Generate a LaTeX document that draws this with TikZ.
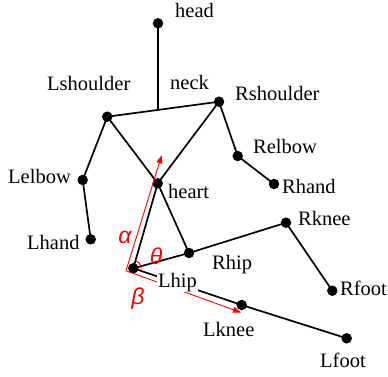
\documentclass[tikz,border=0pt]{standalone}
\usepackage{fontspec}
\setmainfont{Liberation Serif}
\newfontfamily\greekfont{Liberation Sans}
\usetikzlibrary{calc,arrows.meta}

\begin{document}
\begin{tikzpicture}[x=1pt,y=-1pt,
  joint/.style={circle,fill=black,inner sep=0pt,minimum size=10.5pt},
  bone/.style={line width=1.7pt},
  tag/.style={anchor=base west,inner sep=0pt,font=\fontsize{20.5}{24}\selectfont},
  guide/.style={red,line width=0.9pt},
  guidearrow/.style={guide,-{Triangle[length=8pt,width=6pt]}},
  greek/.style={red,inner sep=0pt,font=\fontsize{23}{26}\selectfont\greekfont\itshape},
]
\useasboundingbox (0,0) rectangle (388,376);

% joints
\node[joint] (head)      at (158,23.3)  {};
\node[joint] (Lshoulder) at (107.3,116.7) {};
\node[joint] (Rshoulder) at (219,101.7) {};
\node[joint] (Lelbow)    at (82.7,180) {};
\node[joint] (Lhand)     at (90.7,239.3) {};
\node[joint] (Relbow)    at (237.7,156) {};
\node[joint] (Rhand)     at (274,184) {};
\node[joint] (heart)     at (157.7,183.3) {};
\node[joint] (Lhip)      at (133.3,268.3) {};
\node[joint] (Rhip)      at (189,253) {};
\node[joint] (Rknee)     at (286,222.7) {};
\node[joint] (Rfoot)     at (332.3,290.7) {};
\node[joint] (Lknee)     at (241.7,305) {};
\node[joint] (Lfoot)     at (346.7,338.3) {};
\coordinate (neck) at ($(Lshoulder)!0.454!(Rshoulder)$);

% skeleton
\draw[bone] (head.center) -- (neck);
\draw[bone] (Lshoulder.center) -- (Rshoulder.center);
\draw[bone] (Lshoulder.center) -- (Lelbow.center) -- (Lhand.center);
\draw[bone] (Rshoulder.center) -- (Relbow.center) -- (Rhand.center);
\draw[bone] (Lshoulder.center) -- (heart.center) -- (Rhip.center);
\draw[bone] (Rshoulder.center) -- (heart.center) -- (Lhip.center);
\draw[bone] (Lhip.center) -- (Rhip.center) -- (Rknee.center) -- (Rfoot.center);
\draw[bone] (Lhip.center) -- (Lknee.center) -- (Lfoot.center);

% angle guides at the left hip
\coordinate (corner) at (126,270.8);
\coordinate (tipA) at (161.7,155.3);
\coordinate (tipB) at (241,312.5);
\draw[guidearrow] (corner) -- (tipA);
\draw[guidearrow] (corner) -- (tipB);
\draw[guide] ($(Lhip)+(74:8pt)$) arc[start angle=74, end angle=-19, radius=8pt];

\node[greek] (alpha) at (125,237) {α};
\node[greek] (theta) at (156,256) {θ};
\node[greek] (beta)  at (138,299) {β};

% labels
\node[tag] (tHead)      at (175,17)   {head};
\node[tag] (tNeck)      at (170,89)   {neck};
\node[tag] (tLshoulder) at (47,90.5)  {Lshoulder};
\node[tag] (tRshoulder) at (235,100.5) {Rshoulder};
\node[tag] (tLelbow)    at (8,183.5)  {Lelbow};
\node[tag] (tLhand)     at (27,249)   {Lhand};
\node[tag] (tHeart)     at (168,198)  {heart};
\node[tag] (tRelbow)    at (253,153)  {Relbow};
\node[tag] (tRhand)     at (282,193)  {Rhand};
\node[tag] (tRknee)     at (298,225.5) {Rknee};
\node[tag] (tRhip)      at (212,269)  {Rhip};
\node[tag,fill=white,inner sep=1pt] (tLhip) at (157,287) {Lhip};
\node[tag] (tRfoot)     at (340,295)  {Rfoot};
\node[tag] (tLknee)     at (203,336.5) {Lknee};
\node[tag] (tLfoot)     at (320,367)  {Lfoot};
\end{tikzpicture}
\end{document}
